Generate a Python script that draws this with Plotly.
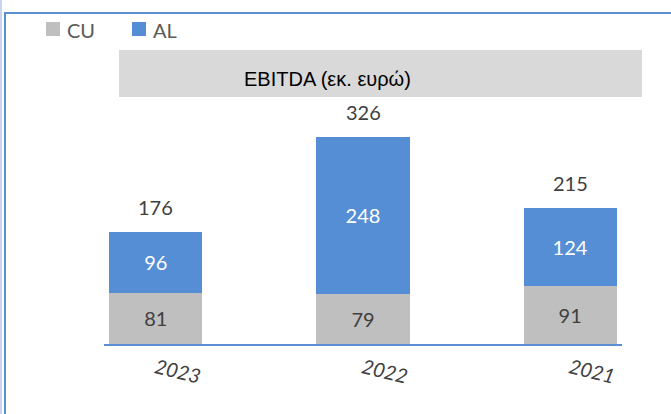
import plotly.graph_objects as go

years = ["2023", "2022", "2021"]
cu_values = [81, 79, 91]
al_values = [96, 248, 124]
totals = [176, 326, 215]
series_names = ["CU", "AL"]
series_colors = ["#bfbfbf", "#558ed5"]
title_text = "EBITDA (εκ. ευρώ)"

W, H = 671, 414
def px(x):
    return x / W
def py(y):
    return 1 - y / H

fig = go.Figure()
fig.add_trace(go.Bar(
    name=series_names[0], x=years, y=cu_values, width=0.45,
    marker=dict(color=series_colors[0], line=dict(width=0)),
    text=cu_values, textposition="inside", insidetextanchor="middle",
    textfont=dict(family="Lato", size=20, color="#404040"),
    hoverinfo="skip",
))
fig.add_trace(go.Bar(
    name=series_names[1], x=years, y=al_values, width=0.45,
    marker=dict(color=series_colors[1], line=dict(width=0)),
    text=al_values, textposition="inside", insidetextanchor="middle",
    textfont=dict(family="Lato", size=20, color="#ffffff"),
    hoverinfo="skip",
))

for i, tot in enumerate(totals):
    fig.add_annotation(x=i, y=tot, xref="x", yref="y", text=str(tot), showarrow=False,
                       yshift=25, yanchor="middle", xanchor="center",
                       font=dict(family="Lato", size=20, color="#404040"))

# manual legend
leg_x = [46, 132]
for name, color, lx in zip(series_names, series_colors, leg_x):
    fig.add_shape(type="rect", xref="paper", yref="paper",
                  x0=px(lx), x1=px(lx + 14), y0=py(36), y1=py(22),
                  fillcolor=color, line=dict(width=0))
    fig.add_annotation(xref="paper", yref="paper", x=px(lx + 19), y=py(30),
                       text=name, showarrow=False, xanchor="left", yanchor="middle",
                       font=dict(family="Lato", size=20, color="#595959"))

# title box
fig.add_shape(type="rect", xref="paper", yref="paper",
              x0=px(119), x1=px(642), y0=py(97), y1=py(50),
              fillcolor="#d9d9d9", line=dict(width=0), layer="below")
fig.add_annotation(xref="paper", yref="paper", x=px(327), y=py(79),
                   text=title_text, showarrow=False, xanchor="center", yanchor="middle",
                   font=dict(family="Liberation Sans", size=20, color="#000000"))

# frame lines
fig.add_shape(type="line", xref="paper", yref="paper", x0=px(1), x1=px(1), y0=0, y1=1,
              line=dict(color="#8faadc", width=1))
fig.add_shape(type="line", xref="paper", yref="paper", x0=px(5), x1=px(5), y0=0, y1=py(12),
              line=dict(color="#5b8fd4", width=2))
fig.add_shape(type="line", xref="paper", yref="paper", x0=px(5), x1=1, y0=py(13), y1=py(13),
              line=dict(color="#5b8fd4", width=2))

fig.update_layout(
    width=W, height=H,
    margin=dict(l=0, r=0, t=0, b=0),
    paper_bgcolor="white", plot_bgcolor="white",
    barmode="stack",
    showlegend=False,
    hovermode=False,
    xaxis=dict(type="category", domain=[px(104), px(622)], range=[-0.25, 2.25],
               showline=True, linecolor="#5b8fd4", linewidth=2,
               showgrid=False, zeroline=False, ticks="",
               tickangle=14, ticklabelstandoff=3,
               tickfont=dict(family="Lato", size=20, color="#404040", style="italic")),
    yaxis=dict(domain=[py(344), py(100)], range=[0, 385], visible=False,
               showgrid=False, zeroline=False),
)

fig.write_html("out.html", config={"displayModeBar": False},
               post_script="document.body.style.margin='0';document.body.style.padding='0';")
